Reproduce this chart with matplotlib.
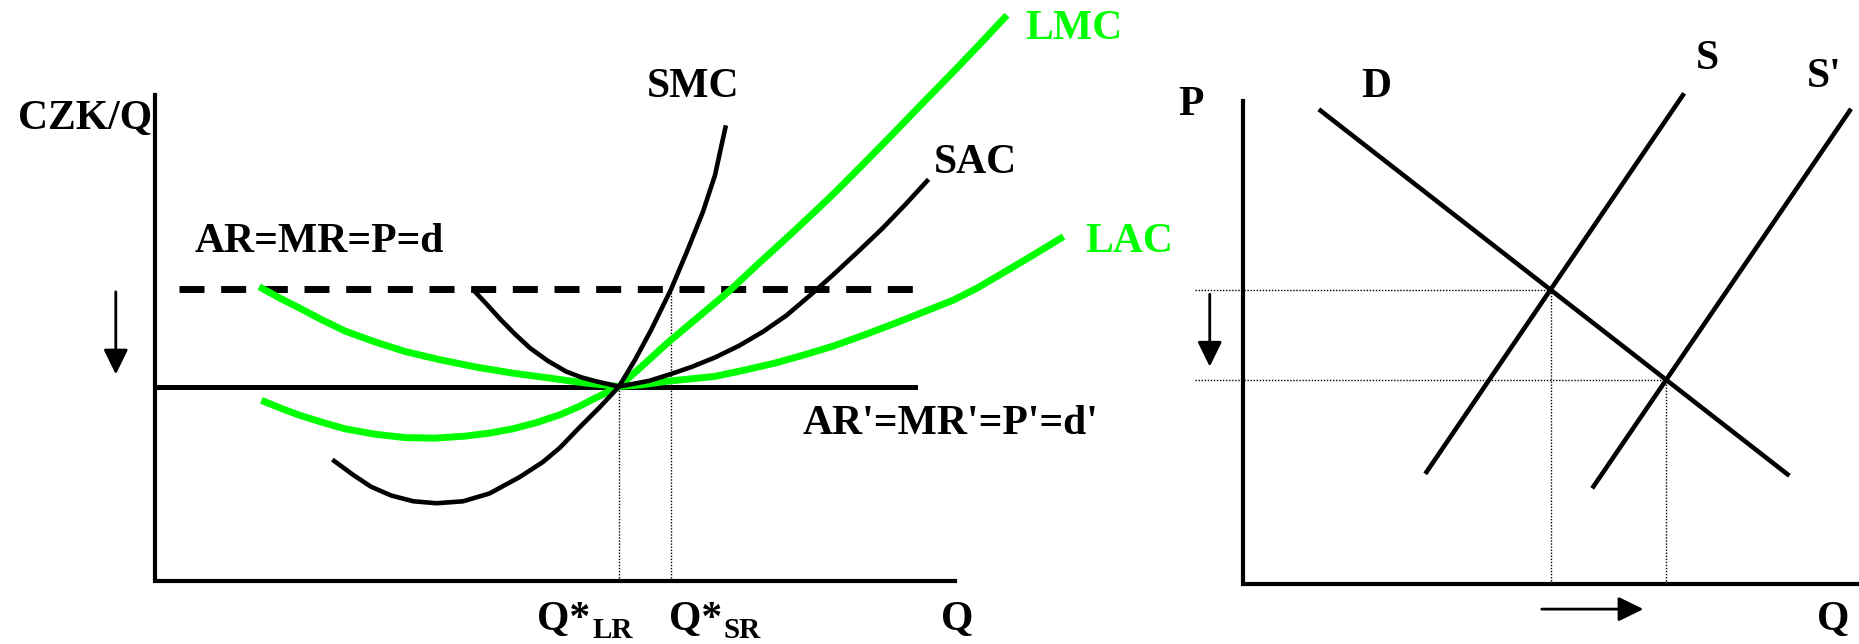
import matplotlib.pyplot as plt
import numpy as np

plt.rcParams['font.family'] = ['Liberation Serif', 'DejaVu Serif']
plt.rcParams['font.weight'] = 'bold'

GREEN = '#00ff00'

# ---- left chart: firm costs (Q 0..100, CZK/Q 0..100)
q_lr = 58
q_sr = 64.5
p_old = 60
p_new = 40

smc_q = [22.4, 24.8, 27.0, 29.5, 32.3, 35.2, 38.5, 41.8, 45.6, 48.5, 50.6, 53.0, 55.5, 58.0,
         60.0, 62.0, 64.5, 66.5, 68.5, 70.0, 71.3]
smc_c = [24.7, 21.8, 19.4, 17.6, 16.4, 16.0, 16.4, 18.0, 21.4, 24.5, 27.4, 31.5, 35.6, 40.0,
         45.5, 51.6, 60.0, 67.8, 76.0, 83.5, 93.3]

sac_q = [39.9, 41.6, 43.2, 45.0, 46.9, 49.1, 51.4, 53.3, 55.1, 58.0, 61.8, 64.5, 67.0, 70.0,
         73.0, 76.0, 78.9, 81.9, 84.9, 87.9, 90.9, 93.7, 96.5]
sac_c = [59.7, 56.7, 53.8, 50.8, 47.9, 45.3, 43.1, 41.9, 41.1, 40.0, 41.2, 42.6, 44.0, 46.0,
         48.4, 51.3, 54.6, 58.8, 63.2, 67.8, 72.5, 77.3, 82.3]

lmc_q = [13.7, 15.8, 17.9, 20.8, 23.8, 27.5, 31.3, 35.0, 38.7, 41.7, 44.7, 47.7, 50.6, 53.0,
         55.1, 58.0, 61.0, 64.0, 67.9, 71.8, 75.3, 78.9, 81.9, 84.9, 88.6, 92.3, 96.0, 99.8,
         103.0, 106.2]
lmc_c = [36.9, 35.5, 34.2, 32.7, 31.3, 30.2, 29.5, 29.4, 29.8, 30.4, 31.3, 32.6, 34.2, 35.9,
         37.7, 40.0, 44.4, 48.9, 54.3, 59.7, 65.1, 70.5, 75.1, 79.8, 85.9, 92.1, 98.4, 104.8,
         110.3, 115.9]

lac_q = [13.4, 15.6, 17.9, 20.8, 23.8, 27.5, 31.3, 35.7, 40.2, 44.6, 49.1, 53.5, 58.0, 61.0,
         64.0, 67.0, 70.0, 73.7, 77.4, 81.1, 84.9, 88.6, 92.3, 96.0, 99.8, 102.8, 105.7, 109.5,
         113.2]
lac_c = [60.2, 58.2, 56.3, 53.8, 51.4, 49.2, 47.2, 45.5, 44.0, 42.8, 41.8, 40.8, 40.0, 40.4,
         41.1, 41.6, 42.1, 43.4, 44.8, 46.5, 48.4, 50.6, 52.9, 55.3, 57.8, 60.3, 63.1, 66.8,
         70.5]

# ---- right chart: market (Q 0..100, P 0..100)
d_q = [12.6, 88.4]
d_p = [98.0, 22.7]
s_q = [29.8, 71.4]
s_p = [23.2, 101.2]
s2_q = [56.9, 98.5]
s2_p = [20.2, 98.0]

W, H = 1859, 644
fig = plt.figure(figsize=(W / 100, H / 100), dpi=100)

ax1 = fig.add_axes([155 / W, (H - 581) / H, 800 / W, 486 / H])
ax2 = fig.add_axes([1243 / W, (H - 584) / H, 616 / W, 483 / H])
for ax in (ax1, ax2):
    ax.set_xlim(0, 100)
    ax.set_ylim(0, 100)
    ax.axis('off')

arrow = dict(arrowstyle='-|>,head_length=0.45,head_width=0.22', color='black', lw=2,
             mutation_scale=34, shrinkA=0, shrinkB=0)
dots = (0, (1, 1.2))

# left chart
ax1.plot([0, 0, 100], [100, 0, 0], color='black', lw=3, clip_on=False, solid_joinstyle='miter')
ax1.plot([3, 96], [p_old, p_old], color='black', lw=5, dashes=(3.6, 2.4),
         dash_capstyle='butt', clip_on=False)
ax1.plot([0, 95], [p_new, p_new], color='black', lw=3.6, clip_on=False)
ax1.plot([q_lr, q_lr], [0, p_new], color='black', lw=1, ls=dots, clip_on=False)
ax1.plot([q_sr, q_sr], [0, p_old], color='black', lw=1, ls=dots, clip_on=False)

ax1.plot(lac_q, lac_c, color=GREEN, lw=5, clip_on=False, solid_joinstyle='round')
ax1.plot(lmc_q, lmc_c, color=GREEN, lw=5, clip_on=False, solid_joinstyle='round')
ax1.plot(sac_q, sac_c, color='black', lw=3.3, clip_on=False, solid_joinstyle='round')
ax1.plot(smc_q, smc_c, color='black', lw=3.3, clip_on=False, solid_joinstyle='round')

ax1.annotate('', xy=(-4.9, 42.5), xytext=(-4.9, 59.5), arrowprops=arrow, annotation_clip=False)

fs = 30
ax1.text(-0.4, 95.1, 'CZK/Q', fontsize=fs, ha='right', va='center')
ax1.text(5.0, 69.8, 'AR=MR=P=d', fontsize=fs, ha='left', va='center')
ax1.text(81.0, 32.3, "AR'=MR'=P'=d'", fontsize=fs, ha='left', va='center')
ax1.text(67.2, 101.6, 'SMC', fontsize=fs, ha='center', va='center')
ax1.text(97.3, 86.0, 'SAC', fontsize=fs, ha='left', va='center')
ax1.text(108.8, 113.5, 'LMC', fontsize=fs, ha='left', va='center', color=GREEN)
ax1.text(116.3, 69.8, 'LAC', fontsize=fs, ha='left', va='center', color=GREEN)
ax1.text(100.3, -8, 'Q', fontsize=fs, ha='center', va='center')

for x0, sub in [(47.8, 'LR'), (64.2, 'SR')]:
    t = ax1.text(x0, -8, 'Q*', fontsize=fs, ha='left', va='center')
    ax1.annotate(sub, xy=(1, 0), xycoords=t, xytext=(1, -4), textcoords='offset points',
                 fontsize=21, ha='left', va='bottom', annotation_clip=False)

# right chart
ax2.plot([0, 0, 100], [100, 0, 0], color='black', lw=3, clip_on=False, solid_joinstyle='miter')
ax2.plot(d_q, d_p, color='black', lw=3.3, clip_on=False)
ax2.plot(s_q, s_p, color='black', lw=3.3, clip_on=False)
ax2.plot(s2_q, s2_p, color='black', lw=3.3, clip_on=False)


def cross(aq, ap, bq, bp):
    ka = np.polyfit(aq, ap, 1)
    kb = np.polyfit(bq, bp, 1)
    q = (kb[1] - ka[1]) / (ka[0] - kb[0])
    return q, np.polyval(ka, q)


for bq, bp in [(s_q, s_p), (s2_q, s2_p)]:
    eq_q, eq_p = cross(d_q, d_p, bq, bp)
    ax2.plot([-7.8, eq_q], [eq_p, eq_p], color='black', lw=1, ls=dots, clip_on=False)
    ax2.plot([eq_q, eq_q], [0, eq_p], color='black', lw=1, ls=dots, clip_on=False)

ax2.annotate('', xy=(-5.4, 45.0), xytext=(-5.4, 60), arrowprops=arrow, annotation_clip=False)
ax2.annotate('', xy=(65.0, -5.2), xytext=(48.5, -5.2), arrowprops=arrow, annotation_clip=False)

ax2.text(-8.4, 99.2, 'P', fontsize=fs, ha='center', va='center')
ax2.text(21.6, 102.9, 'D', fontsize=fs, ha='center', va='center')
ax2.text(75.4, 108.6, 'S', fontsize=fs, ha='center', va='center')
ax2.text(94.4, 104.9, "S'", fontsize=fs, ha='center', va='center')
ax2.text(95.8, -7.4, 'Q', fontsize=fs, ha='center', va='center')

fig.savefig('out.png', dpi=100, facecolor='white')
